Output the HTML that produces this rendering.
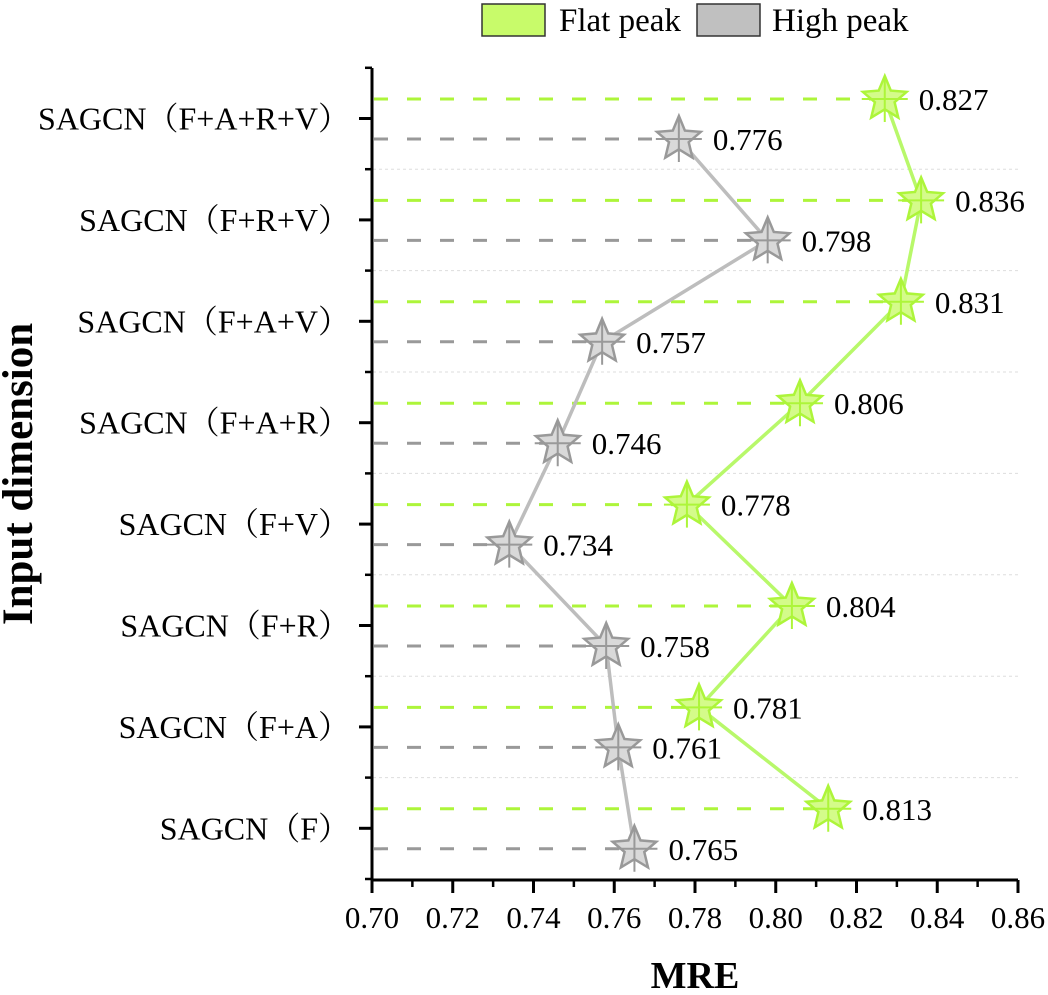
<!DOCTYPE html>
<html><head><meta charset="utf-8"><style>
body{margin:0;background:#fff}
svg text{font-family:"Liberation Serif","Noto Serif CJK SC",serif;fill:#000}
</style></head><body>
<svg id="c" width="1048" height="990" viewBox="0 0 1048 990">
<g id="legend">
<rect x="482" y="4" width="63" height="32" fill="#c8fb6a" stroke="#333" stroke-width="1.5"/>
<text x="559" y="31" font-size="33">Flat peak</text>
<rect x="697" y="4" width="63" height="32" fill="#c0c0c0" stroke="#333" stroke-width="1.5"/>
<text x="772" y="31" font-size="33">High peak</text>
</g>
<g id="grid"></g><g id="dash"></g><g id="lines"></g><g id="marks"></g><g id="axes"></g>
<text x="695" y="988" font-size="38" font-weight="bold" text-anchor="middle">MRE</text>
<text transform="translate(32,474) rotate(-90)" font-size="43" font-weight="bold" text-anchor="middle">Input dimension</text>
</svg>
<script>
const categories=["SAGCN（F+A+R+V）","SAGCN（F+R+V）","SAGCN（F+A+V）","SAGCN（F+A+R）","SAGCN（F+V）","SAGCN（F+R）","SAGCN（F+A）","SAGCN（F）"];
const flatPeak=[0.827,0.836,0.831,0.806,0.778,0.804,0.781,0.813];
const highPeak=[0.776,0.798,0.757,0.746,0.734,0.758,0.761,0.765];
const xTicks=[0.70,0.72,0.74,0.76,0.78,0.80,0.82,0.84,0.86];
const NS="http://www.w3.org/2000/svg";
const x=v=>372+(v-0.70)/0.16*646;
const y=i=>118.5+i*101.4;
function mk(p,t,a){const e=document.createElementNS(NS,t);for(const k in a)e.setAttribute(k,a[k]);document.getElementById(p).appendChild(e);return e;}
function star(cx,cy,r,fill,stroke){let pts=[];for(let k=0;k<10;k++){const rr=k%2?r*0.45:r;const a=-Math.PI/2+k*Math.PI/5;pts.push((cx+rr*Math.cos(a)).toFixed(1)+","+(cy+rr*Math.sin(a)).toFixed(1));}
const g=mk("marks","g",{});
const s=document.createElementNS(NS,"polygon");s.setAttribute("points",pts.join(" "));s.setAttribute("fill",fill);s.setAttribute("stroke",stroke);s.setAttribute("stroke-width","2.5");g.appendChild(s);
const l1=document.createElementNS(NS,"path");l1.setAttribute("d",`M${cx-r} ${cy}H${cx+r}M${cx} ${cy-r}V${cy+r}`);l1.setAttribute("stroke",stroke);l1.setAttribute("stroke-width","2");g.appendChild(l1);return g;}
for(let i=0;i<categories.length-1;i++){const s=mk("grid","line",{x1:373,x2:1018,y1:y(i)+50.7,y2:y(i)+50.7,stroke:"#ddd","stroke-width":1,"stroke-dasharray":"3,3"});

}
const series=[{d:flatPeak,off:-19.5,c:"#adf53a",f:"#d4fb8a",lc:"#b8f86a",name:"flat"},{d:highPeak,off:20.5,c:"#999",f:"#d9d9d9",lc:"#bdbdbd",name:"high"}];
series.forEach(S=>{
 let pts=[];
 S.d.forEach((v,i)=>{const yy=y(i)+S.off;
  const dl=mk("dash","line",{x1:374,x2:x(v),y1:yy,y2:yy,stroke:S.c,"stroke-width":3,"stroke-dasharray":"14,19"});
  
  
  pts.push(x(v)+","+yy);});
 const pl=mk("lines","polyline",{points:pts.join(" "),fill:"none",stroke:S.lc,"stroke-width":3.5});
 
 
 S.d.forEach((v,i)=>{const yy=y(i)+S.off;
  const g=star(x(v),yy,23,S.f,S.c);
  
  
  const t=mk("marks","text",{x:x(v)+34,y:yy+11,"font-size":31});t.textContent=v.toFixed(3);
  
  });
});
const ax=mk("axes","path",{d:"M372 68V880H1018",fill:"none",stroke:"#000","stroke-width":3});


categories.forEach((c,i)=>{mk("axes","line",{x1:359,x2:372,y1:y(i),y2:y(i),stroke:"#000","stroke-width":3});
 const t=mk("axes","text",{x:350,y:y(i)+11,"font-size":32,"text-anchor":"end"});t.textContent=c;
 
 
 mk("axes","line",{x1:365,x2:372,y1:y(i)-50.7,y2:y(i)-50.7,stroke:"#000","stroke-width":2.5});});
mk("axes","line",{x1:365,x2:372,y1:y(7)+50.7,y2:y(7)+50.7,stroke:"#000","stroke-width":2.5});
xTicks.forEach((v,i)=>{mk("axes","line",{x1:x(v),x2:x(v),y1:880,y2:893,stroke:"#000","stroke-width":3});
 if(i<xTicks.length-1)mk("axes","line",{x1:x(v+0.01),x2:x(v+0.01),y1:880,y2:887,stroke:"#000","stroke-width":2.5});
 const t=mk("axes","text",{x:x(v),y:928,"font-size":31,"text-anchor":"middle"});t.textContent=v.toFixed(2);
 
 });
</script>
</body></html>
